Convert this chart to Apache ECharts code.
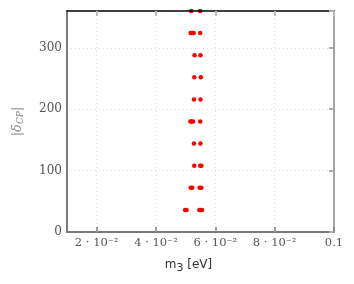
<!DOCTYPE html>
<html><head><meta charset="utf-8">
<script src="https://cdn.jsdelivr.net/npm/echarts@6/dist/echarts.min.js"></script>
<style>html,body{margin:0;padding:0;background:#fff}#c{width:354px;height:284px}</style>
</head><body><div id="c"></div>
<script>
// |delta_CP| levels (deg) and m3 values (eV) of the points at each level
const deltaLevels = [36, 72, 108, 144, 180, 216, 252, 288, 324, 360];
const m3Values = [
  [0.0498, 0.0503, 0.0546, 0.0551, 0.0555],
  [0.0517, 0.0522, 0.0547, 0.0553],
  [0.0529, 0.0549, 0.0553],
  [0.0528, 0.0550],
  [0.0516, 0.0520, 0.0525, 0.0549],
  [0.0528, 0.0550],
  [0.0529, 0.0551],
  [0.0530, 0.0550],
  [0.0517, 0.0521, 0.0527, 0.0549],
  [0.0519, 0.0549]
];
const xTicks = [0.02, 0.04, 0.06, 0.08, 0.1];
const xTickLabels = ['2 · 10⁻²', '4 · 10⁻²', '6 · 10⁻²', '8 · 10⁻²', '0.1'];
const yTicks = [0, 100, 200, 300];

const points = [];
deltaLevels.forEach((d, i) => m3Values[i].forEach(m => points.push([m, d])));

const serif = 'DejaVu Serif';
const chart = echarts.init(document.getElementById('c'), null, {renderer: 'canvas'});
chart.setOption({
  animation: false,
  grid: {left: 67, right: 20, top: 11, bottom: 52, show: false},
  xAxis: [{
    type: 'value', min: 0.01, max: 0.1,
    axisLine: {show: true, onZero: false, lineStyle: {color: '#7a7a7a', width: 2}},
    axisTick: {show: true, inside: true, length: 5, customValues: xTicks, lineStyle: {color: '#999', width: 2}},
    axisLabel: {customValues: xTicks, formatter: v => xTickLabels[xTicks.findIndex(t => Math.abs(t - v) < 1e-9)] || '',
      fontFamily: serif, fontSize: 11.5, color: '#555', margin: 5},
    splitLine: {show: true, lineStyle: {color: '#ddd', type: [1, 3]}},
    name: '{a|m}{s|3}{a| [eV]}', nameLocation: 'middle', nameGap: 23,
    nameTextStyle: {padding: [0, 24, 0, 0], rich: {a: {fontFamily: 'DejaVu Sans', fontSize: 12, color: '#333'},
      s: {fontFamily: 'DejaVu Sans', fontSize: 11, color: '#333', padding: [8, 0, 0, 0]}}}
  }, {
    type: 'value', min: 0.01, max: 0.1, position: 'top', z: 5,
    axisLine: {show: true, onZero: false, lineStyle: {color: '#000', width: 1.5}},
    axisTick: {show: true, inside: true, length: 5, customValues: xTicks, lineStyle: {color: '#bbb', width: 2}},
    axisLabel: {show: false}, splitLine: {show: false}
  }],
  yAxis: [{
    type: 'value', min: 0, max: 360, interval: 100,
    axisLine: {show: true, onZero: false, lineStyle: {color: '#7a7a7a', width: 2}},
    axisTick: {show: false},
    axisLabel: {showMaxLabel: false, fontFamily: serif, fontSize: 12, color: '#555', margin: 5},
    splitLine: {show: true, showMaxLine: false, lineStyle: {color: '#ddd', type: [1, 3]}},
    name: '{a||δ}{s|CP}{a||}', nameLocation: 'middle', nameGap: 42, nameRotate: 90,
    nameTextStyle: {rich: {a: {fontFamily: serif, fontSize: 13, color: '#888', fontStyle: 'italic'},
      s: {fontFamily: serif, fontSize: 9, color: '#888', fontStyle: 'italic', padding: [6, 0, 0, 0]}}}
  }, {
    type: 'value', min: 0, max: 360, interval: 100, position: 'right', z: 5,
    axisLine: {show: true, onZero: false, lineStyle: {color: '#888', width: 1.5}},
    axisTick: {show: true, inside: true, length: 5, lineStyle: {color: '#aaa', width: 2}},
    axisLabel: {show: false}, splitLine: {show: false}
  }],
  series: [{
    type: 'scatter', data: points, symbol: 'circle', symbolSize: 4.5,
    itemStyle: {color: '#ff0000', opacity: 1}
  }]
});
</script></body></html>
